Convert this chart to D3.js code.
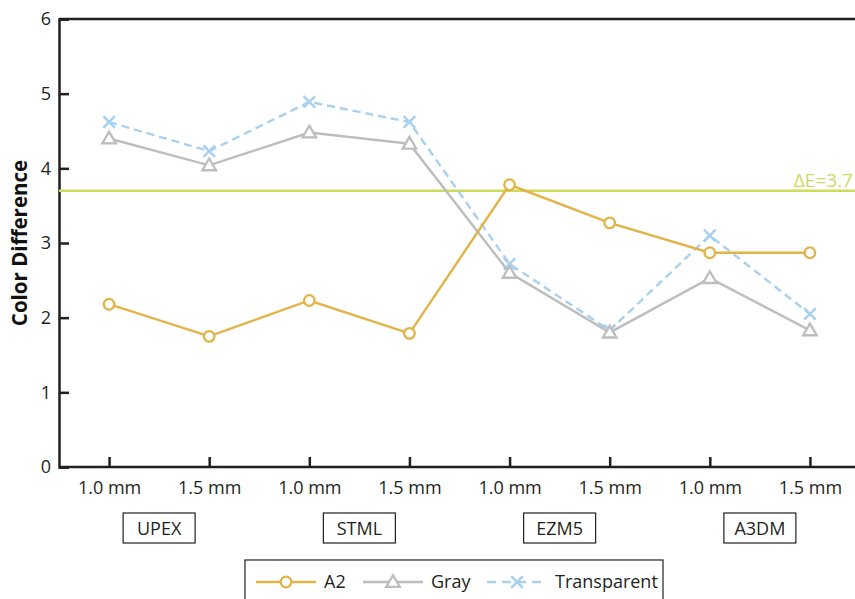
<!DOCTYPE html>
<html><head><meta charset="utf-8">
<script src="https://cdn.jsdelivr.net/npm/d3@7/dist/d3.min.js"></script>
<style>body{margin:0;background:#fff;} svg{display:block;}</style>
</head><body>
<svg id="c" width="855" height="599"></svg>
<script>
const categories = ["UPEX|1.0","UPEX|1.5","STML|1.0","STML|1.5","EZM5|1.0","EZM5|1.5","A3DM|1.0","A3DM|1.5"];
const tickLabels = ["1.0 mm","1.5 mm","1.0 mm","1.5 mm","1.0 mm","1.5 mm","1.0 mm","1.5 mm"];
const groups = ["UPEX","STML","EZM5","A3DM"];
const a2 = [2.18,1.75,2.23,1.79,3.78,3.27,2.87,2.87];
const gray = [4.40,4.04,4.48,4.33,2.60,1.80,2.53,1.83];
const transparent = [4.62,4.23,4.89,4.62,2.72,1.83,3.10,2.05];
const yTicks = [0,1,2,3,4,5,6];
const threshold = 3.7;

const font = "'Open Sans',sans-serif";
const svg = d3.select("#c");
const L = 59, R = 860, T = 19, B = 467;
const x = d3.scalePoint().domain(categories).range([L, R]).padding(0.5);
const y = d3.scaleLinear().domain([0,6]).range([B, T]);
const axisColor = "#231f20";

// frame top
svg.append("line").attr("x1",L).attr("x2",855).attr("y1",T).attr("y2",T).attr("stroke",axisColor).attr("stroke-width",2.5);

// y axis
const ya = svg.append("g").attr("transform",`translate(${L},0)`)
  .call(d3.axisLeft(y).tickValues(yTicks).tickSize(-10).tickPadding(8).tickFormat(d3.format("d")));
ya.select(".domain").attr("stroke",axisColor).attr("stroke-width",2.5);
ya.selectAll(".tick line").attr("stroke",axisColor).attr("stroke-width",2.5);
ya.selectAll("text").attr("font-family",font).attr("font-size",18).attr("fill",axisColor);

// x axis
const xa = svg.append("g").attr("transform",`translate(0,${B})`)
  .call(d3.axisBottom(x).tickSize(-10).tickPadding(14).tickFormat((d,i)=>tickLabels[i]));
xa.select(".domain").attr("d",`M${L},0H855`).attr("stroke",axisColor).attr("stroke-width",2.5);
xa.selectAll(".tick line").attr("stroke",axisColor).attr("stroke-width",2.5);
xa.selectAll("text").attr("font-family",font).attr("font-size",18).attr("fill",axisColor);

// y label
svg.append("text").attr("transform",`translate(27,${(T+B)/2}) rotate(-90)`)
  .attr("text-anchor","middle").attr("font-family",font).attr("font-weight","bold")
  .attr("font-size",20.5).attr("fill","#111").text("Color Difference");

// group boxes
groups.forEach((g,i)=>{
  const cx = (x(categories[2*i]) + x(categories[2*i+1]))/2;
  svg.append("rect").attr("x",cx-36).attr("y",513).attr("width",72).attr("height",30)
    .attr("fill","#fff").attr("stroke",axisColor).attr("stroke-width",1.2);
  svg.append("text").attr("x",cx).attr("y",535).attr("text-anchor","middle")
    .attr("font-family",font).attr("font-size",18).attr("fill",axisColor).text(g);
});

// threshold
svg.append("line").attr("x1",L).attr("x2",855).attr("y1",y(threshold)).attr("y2",y(threshold))
  .attr("stroke","#cfdb5a").attr("stroke-width",2.5);
svg.append("text").attr("x",853).attr("y",y(threshold)-4).attr("text-anchor","end")
  .attr("font-family",font).attr("font-size",19).attr("fill","#cfd866").text("\u0394E=3.7");

const series = [
  {name:"A2", values:a2, color:"#e2b448", dash:null, marker:"circle"},
  {name:"Gray", values:gray, color:"#bdbdbf", dash:null, marker:"triangle"},
  {name:"Transparent", values:transparent, color:"#a8d0ef", dash:"8,5", marker:"x"}
];
const line = d3.line().x((d,i)=>x(categories[i])).y(d=>y(d));

function drawMarker(g, type, cx, cy, color){
  if(type==="circle"){
    g.append("circle").attr("cx",cx).attr("cy",cy).attr("r",5.3).attr("fill","#fff").attr("stroke",color).attr("stroke-width",2.3);
  } else if(type==="triangle"){
    const s=6.8;
    g.append("path").attr("d",`M${cx},${cy-s}L${cx+s},${cy+s*0.72}L${cx-s},${cy+s*0.72}Z`)
      .attr("fill","#fff").attr("stroke",color).attr("stroke-width",2.3);
  } else {
    const s=5.8;
    g.append("path").attr("d",`M${cx-s},${cy-s}L${cx+s},${cy+s}M${cx-s},${cy+s}L${cx+s},${cy-s}`)
      .attr("stroke",color).attr("stroke-width",2.5).attr("fill","none");
  }
}

[series[2], series[1], series[0]].forEach(s=>{
  const g = svg.append("g");
  g.append("path").datum(s.values).attr("d",line).attr("fill","none").attr("stroke",s.color)
    .attr("stroke-width",2.4).attr("stroke-dasharray",s.dash);
  s.values.forEach((v,i)=>drawMarker(g,s.marker,x(categories[i]),y(v),s.color));
});

// legend
const lg = svg.append("g");
lg.append("rect").attr("x",245).attr("y",560).attr("width",418).attr("height",45)
  .attr("fill","#fff").attr("stroke",axisColor).attr("stroke-width",1.2);
const items = [{s:series[0], x0:256, tx:324},{s:series[1], x0:363, tx:431},{s:series[2], x0:487, tx:555}];
items.forEach(it=>{
  lg.append("line").attr("x1",it.x0).attr("x2",it.x0+60).attr("y1",582).attr("y2",582)
    .attr("stroke",it.s.color).attr("stroke-width",2.4).attr("stroke-dasharray",it.s.dash ? "9,6" : null);
  drawMarker(lg,it.s.marker,it.x0+30,582,it.s.color);
  lg.append("text").attr("x",it.tx).attr("y",588).attr("font-family",font).attr("font-size",18)
    .attr("fill",axisColor).text(it.s.name);
});
</script>
</body></html>
